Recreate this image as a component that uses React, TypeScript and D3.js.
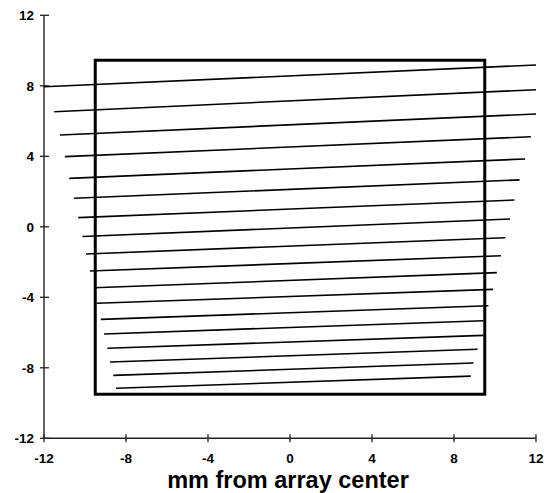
import { useEffect, useRef } from 'react';
import * as d3 from 'd3';

// axis ticks (mm)
const xTicks = [-12, -8, -4, 0, 4, 8, 12];
const yTicks = [-12, -8, -4, 0, 4, 8, 12];

// outline of the array
const boxX = [-9.5, 9.5];
const boxY = [-9.5, 9.45];

// line endpoints (mm)
const leftX = [-12, -11.5, -11.22, -10.98, -10.77, -10.54, -10.33, -10.12, -9.95, -9.76, -9.56, -9.43, -9.23, -9.07, -8.91, -8.78, -8.62, -8.49];
const leftY = [7.95, 6.53, 5.21, 3.98, 2.75, 1.62, 0.52, -0.55, -1.54, -2.51, -3.46, -4.34, -5.25, -6.08, -6.89, -7.67, -8.43, -9.16];
const rightX = [12, 12, 12, 11.75, 11.47, 11.2, 10.95, 10.73, 10.5, 10.29, 10.09, 9.9, 9.68, 9.44, 9.44, 9.15, 8.95, 8.82];
const rightY = [9.18, 7.78, 6.4, 5.11, 3.85, 2.66, 1.52, 0.44, -0.62, -1.64, -2.6, -3.55, -4.48, -5.33, -6.16, -6.95, -7.73, -8.47];

const xLabel = 'mm from array center';

const App = () => {
  const ref = useRef<SVGSVGElement>(null);
  const width = 548, height = 493;

  useEffect(() => {
    const svg = d3.select(ref.current);
    svg.selectAll('*').remove();

    const x = d3.scaleLinear().domain([-12, 12]).range([44, 536]);
    const y = d3.scaleLinear().domain([-12, 12]).range([438.3, 15.3]);

    const font = '"Liberation Sans", Arial, sans-serif';

    // y axis
    const yAxis = svg.append('g').attr('transform', `translate(${x(-12)},0)`);
    yAxis.append('line')
      .attr('y1', y(12)).attr('y2', y(-12))
      .attr('stroke', '#222').attr('stroke-width', 1.4);
    yAxis.selectAll('line.tick').data(yTicks).enter().append('line')
      .attr('class', 'tick')
      .attr('x1', -4).attr('x2', 5)
      .attr('y1', d => y(d)).attr('y2', d => y(d))
      .attr('stroke', '#222').attr('stroke-width', 1.3);
    yAxis.selectAll('text').data(yTicks).enter().append('text')
      .attr('x', -10).attr('y', d => y(d))
      .attr('dy', '0.36em')
      .attr('text-anchor', 'end')
      .attr('font-family', font).attr('font-weight', 'bold').attr('font-size', 13.5)
      .text(d => d);

    // x axis
    const xAxis = svg.append('g').attr('transform', `translate(0,${y(-12)})`);
    xAxis.append('line')
      .attr('x1', x(-12)).attr('x2', x(12))
      .attr('stroke', '#222').attr('stroke-width', 1.4);
    xAxis.selectAll('line.tick').data(xTicks).enter().append('line')
      .attr('class', 'tick')
      .attr('y1', -4).attr('y2', 4)
      .attr('x1', d => x(d)).attr('x2', d => x(d))
      .attr('stroke', '#222').attr('stroke-width', 1.3);
    xAxis.selectAll('text').data(xTicks).enter().append('text')
      .attr('x', d => x(d)).attr('y', 24.7)
      .attr('text-anchor', 'middle')
      .attr('font-family', font).attr('font-weight', 'bold').attr('font-size', 13.5)
      .text(d => d);

    svg.append('text')
      .attr('x', 288).attr('y', 488)
      .attr('text-anchor', 'middle')
      .attr('font-family', font).attr('font-weight', 'bold').attr('font-size', 23.5)
      .text(xLabel);

    // the box
    svg.append('rect')
      .attr('x', x(boxX[0])).attr('y', y(boxY[1]))
      .attr('width', x(boxX[1]) - x(boxX[0]))
      .attr('height', y(boxY[0]) - y(boxY[1]))
      .attr('fill', 'none').attr('stroke', '#000').attr('stroke-width', 3);

    // the lines
    const idx = d3.range(leftX.length);
    svg.selectAll('line.row').data(idx).enter().append('line')
      .attr('class', 'row')
      .attr('x1', i => x(leftX[i])).attr('y1', i => y(leftY[i]))
      .attr('x2', i => x(rightX[i])).attr('y2', i => y(rightY[i]))
      .attr('stroke', '#000').attr('stroke-width', 1.6);
  }, []);

  return (
    <svg ref={ref} width={width} height={height}
      style={{ position: 'absolute', left: 0, top: 0, background: '#fff' }} />
  );
};

export default App;
